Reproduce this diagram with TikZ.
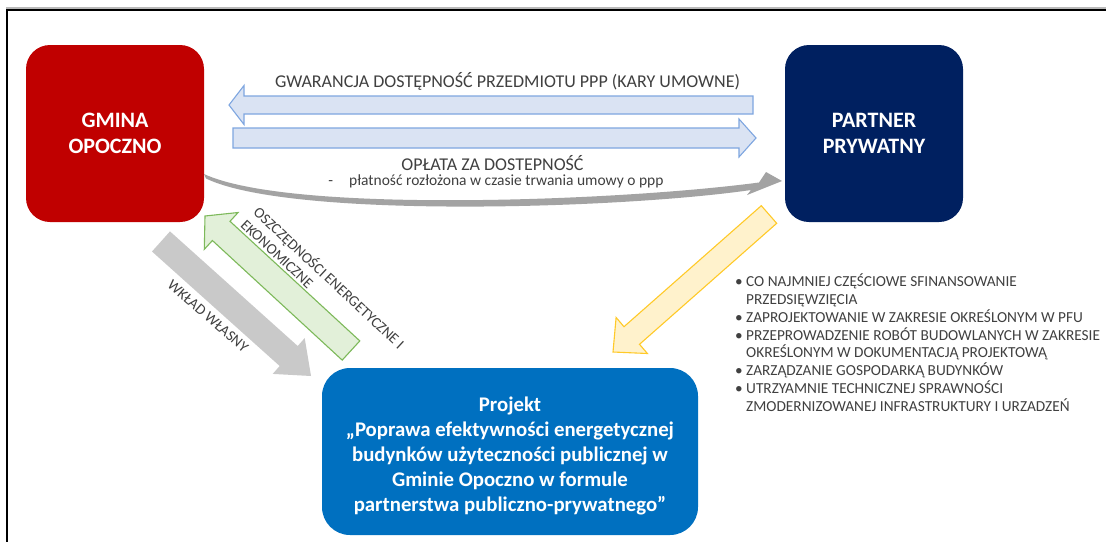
\documentclass[tikz,border=0pt]{standalone}
\usepackage{fontspec}
\setmainfont{Carlito}
\definecolor{gmina}{HTML}{C00000}
\definecolor{partner}{HTML}{002060}
\definecolor{projblue}{HTML}{0070C0}
\definecolor{arrblue}{HTML}{DAE3F3}
\definecolor{arrblueline}{HTML}{7EA6E0}
\definecolor{arrgray}{HTML}{C9C9C9}
\definecolor{curvegray}{HTML}{A3A3A3}
\definecolor{arrgreen}{HTML}{E2F0D9}
\definecolor{arrgreenline}{HTML}{7DB95A}
\definecolor{arryellow}{HTML}{FFF2CC}
\definecolor{arryellowline}{HTML}{FFCA28}
\definecolor{txt}{HTML}{404040}
\begin{document}
\begin{tikzpicture}[x=1pt,y=-1pt,
  box/.style={rectangle, rounded corners=24pt, minimum width=178pt, minimum height=177pt,
    inner sep=0pt, text=white, font=\fontsize{22}{26}\selectfont\bfseries, align=center},
  lbl/.style={text=txt, inner sep=0pt},
  toplbl/.style={lbl, font=\fontsize{18}{20}\selectfont},
  sidelbl/.style={lbl, font=\fontsize{15}{18}\selectfont},
  bul/.style={lbl, anchor=base west, font=\fontsize{15.3}{18}\selectfont},
  blockarrow/.style={line width=1.1pt, line join=miter}
]
\useasboundingbox (0,0) rectangle (1106,542);
\fill[white] (0,0) rectangle (1106,542);
% frame
\fill[gray!55] (6,6.5) rectangle (1106,8.5);
\fill[black] (6,8.5) rectangle (1106,10.5);
\fill[black] (6,8.5) rectangle (8,542);

% main boxes
\node[box, fill=gmina] (gmina) at (115,133.5) {GMINA\\OPOCZNO};
\node[box, fill=partner] (partner) at (874,133.5) {PARTNER\\PRYWATNY};
\node[box, fill=projblue, minimum width=376pt, minimum height=167pt, rounded corners=28pt,
  label={[name=projtxt, align=center, text=white, inner sep=0pt, yshift=-4.5pt,
    font=\fontsize{20.8}{25.2}\selectfont\bfseries]center:Projekt\\„Poprawa efektywności energetycznej\\budynków użyteczności publicznej w\\Gminie Opoczno w formule\\partnerstwa publiczno-prywatnego”}]
  (proj) at (510,451.5) {};

% horizontal block arrows
\filldraw[blockarrow, fill=arrblue, draw=arrblueline]
  (753,96) -- (244,96) -- (244,85.5) -- (229,105) -- (244,124.5) -- (244,114) -- (753,114) -- cycle;
\filldraw[blockarrow, fill=arrblue, draw=arrblueline]
  (233,128) -- (739,128) -- (739,119) -- (756,138) -- (739,157) -- (739,148) -- (233,148) -- cycle;

\node[toplbl] (gwar) at (507.5,81) {GWARANCJA DOSTĘPNOŚĆ PRZEDMIOTU PPP (KARY UMOWNE)};
\node[toplbl] (oplata) at (492.5,163) {OPŁATA ZA DOSTEPNOŚĆ};
\node[lbl, font=\fontsize{15.5}{17}\selectfont] (platnosc) at (496,181) {-\hspace{16pt}płatność rozłożona w czasie trwania umowy o ppp};

% curved gray arrow
\fill[curvegray] (204,174) .. controls (290,214) and (620,201) .. (759,182.5)
  -- (766,172) -- (782,181) -- (747,195) -- (751,190)
  .. controls (620,209) and (290,219) .. (206,178.5) -- cycle;

% gray arrow (wklad wlasny)
\fill[arrgray] (170,231.4) -- (297.7,346) -- (304.7,338.1) -- (311,376) -- (272.7,373.9) -- (279.7,366) -- (152,251.5) -- cycle;
% green arrow
\filldraw[blockarrow, fill=arrgreen, draw=arrgreenline]
  (359.8,340.9) -- (230,221.3) -- (238.1,212.5) -- (205,216) -- (204.3,249.3) -- (212.4,240.5) -- (342.2,360.1) -- cycle;
% yellow arrow
\filldraw[blockarrow, fill=arryellow, draw=arryellowline]
  (761.3,205.7) -- (624,326.7) -- (616.1,317.5) -- (613,352) -- (647.4,353.5) -- (639.5,344.3) -- (776.7,223.3) -- cycle;

% rotated labels
\node[sidelbl, rotate=-43, anchor=west] (oszcz) at (256,210) {OSZCZĘDNOŚCI ENERGETYCZNE I};
\node[sidelbl, rotate=-43, anchor=west] (ekon) at (243,222.5) {EKONOMICZNE};
\node[sidelbl, rotate=-41] (wklad) at (208,316) {WKŁAD WŁASNY};

% bullet list
\node[bul] (d1) at (735,286.5) {•};
\node[bul] (b1) at (746,286.5) {CO NAJMNIEJ CZĘŚCIOWE SFINANSOWANIE};
\node[bul] (b2) at (746,304.4) {PRZEDSIĘWZIĘCIA};
\node[bul] (d3) at (735,322.2) {•};
\node[bul] (b3) at (746,322.2) {ZAPROJEKTOWANIE W ZAKRESIE OKREŚLONYM W PFU};
\node[bul] (d4) at (735,340.1) {•};
\node[bul] (b4) at (746,340.1) {PRZEPROWADZENIE ROBÓT BUDOWLANYCH W ZAKRESIE};
\node[bul] (b5) at (746,357.9) {OKREŚLONYM W DOKUMENTACJĄ PROJEKTOWĄ};
\node[bul] (d6) at (735,375.8) {•};
\node[bul] (b6) at (746,375.8) {ZARZĄDZANIE GOSPODARKĄ BUDYNKÓW};
\node[bul] (d7) at (735,393.7) {•};
\node[bul] (b7) at (746,393.7) {UTRZYAMNIE TECHNICZNEJ SPRAWNOŚCI};
\node[bul] (b8) at (746,411.5) {ZMODERNIZOWANEJ INFRASTRUKTURY I URZADZEŃ};
\end{tikzpicture}
\end{document}
